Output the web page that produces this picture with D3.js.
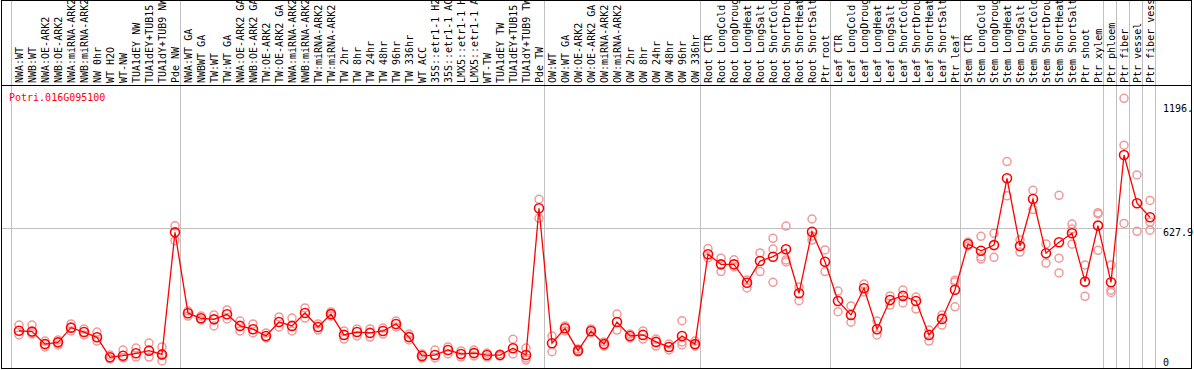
<!DOCTYPE html>
<html><head><meta charset="utf-8">
<script src="https://cdn.jsdelivr.net/npm/d3@7"></script>
<style>html,body{margin:0;padding:0;background:#fff;}svg{display:block;}</style>
</head><body><svg id="c" width="1194" height="370"></svg>
<script>
const title = "Potri.016G095100";
const categories = ["NWA:WT","NWB:WT","NWA:OE-ARK2","NWB:OE-ARK2","NWA:miRNA-ARK2","NWB:miRNA-ARK2","NW 0hr","WT H2O","WT-NW","TUA1dEY NW","TUA1dEY+TUB15 NW","TUA1dY+TUB9 NW","Pde NW",
"NWA:WT GA","NWBWT GA","TW:WT","TW:WT GA","NWA:OE-ARK2 GA","NWB:OE-ARK2 GA","TW:OE-ARK2","TW:OE-ARK2 GA","NWA:miRNA-ARK2 ","NWB:miRNA-ARK2 ","TW:miRNA-ARK2","TW:miRNA-ARK2 ","TW 2hr","TW 8hr","TW 24hr","TW 48hr","TW 96hr","TW 336hr","WT ACC","35S::etr1-1 H2O","35S::etr1-1 ACC","LMX5::etr1-1 H2O","LMX5::etr1-1 ACC","WT-TW","TUA1dEY TW","TUA1dEY+TUB15 TW","TUA1dY+TUB9 TW","Pde TW",
"OW:WT","OW:WT GA","OW:OE-ARK2","OW:OE-ARK2 GA","OW:miRNA-ARK2","OW:miRNA-ARK2 ","OW 2hr","OW 8hr","OW 24hr","OW 48hr","OW 96hr","OW 336hr",
"Root CTR","Root LongCold","Root LongDrought","Root LongHeat","Root LongSalt","Root ShortCold","Root ShortDrought","Root ShortHeat","Root ShortSalt","Ptr root",
"Leaf CTR","Leaf LongCold","Leaf LongDrought","Leaf LongHeat","Leaf LongSalt","Leaf ShortCold","Leaf ShortDrought","Leaf ShortHeat","Leaf ShortSalt","Ptr leaf",
"Stem CTR","Stem LongCold","Stem LongDrought","Stem LongHeat","Stem LongSalt","Stem ShortCold","Stem ShortDrought","Stem ShortHeat","Stem ShortSalt","Ptr shoot","Ptr xylem",
"Ptr phloem","Ptr fiber","Ptr vessel","Ptr fiber vessel"];
const groupStarts = [0,13,41,53,63,73,84,85,86,87,88];
const meanValues = [161,157,100,108,175,155,131,40,47,58,70,53,610,
241,218,213,236,183,168,137,201,183,242,178,237,142,155,151,160,192,132,46,50,73,55,59,50,50,81,50,720,
104,172,70,160,100,201,137,142,110,87,137,100,
510,464,464,380,479,499,533,332,613,476,
297,233,355,168,301,320,297,142,215,348,
557,526,552,857,548,762,515,565,606,385,641,
382,963,743,679];
const replicateValues = [[187,142],[187,146],[114,87],[119,96],[192,160],[169,142],[155,114],[50,32],[73,37],[82,41],[105,41],[87,50,23],[640,572],
[251,228],[228,210],[233,183],[256,215],[205,160],[192,151],[151,128],[224,178],[219,160],[265,219],[192,164],[247,228],[160,123],[169,137],[169,132],[173,146],[205,178],[146,119],[55,37],[73,37],[87,55],[69,41],[73,46],[59,41],[55,46],[122,55],[82,37,27],[761,674],
[137,65],[183,160],[78,64],[169,151],[110,91],[237,164],[146,128],[160,123],[123,91],[100,73],[207,110,96],[114,91],
[536,493],[492,431],[485,452],[393,356],[516,431],[583,534,382],[639,484,475],[361,298],[671,593,575],[530,431],
[342,248],[274,200],[374,338],[205,142],[320,278],[347,288],[315,260],[164,114],[233,187],[392,383,270],
[566,548],[592,499,488],[606,496],[933,777],[575,520],[802,714],[557,470],[779,492,425],[648,625,556],[461,318],[700,694,528],
[461,346,336],[1222,1008,651],[872,615],[756,657,620]];
const yTickValues = [1196, 627.9, 0];
const yTickLabels = ["1196.", "627.9", "0"];

const svg = d3.select("#c");
const W = 1194, H = 370;
const font = "'DejaVu Sans Mono', monospace";
const x = d3.scaleBand().domain(categories).range([11, 11 + 13*categories.length]).padding(0);
const px = c => x(c) + 8;
const y = d3.scaleLinear().domain([0, 1196]).range([366, 104]);

// vertical group separators
const sepX = groupStarts.map(i => i < categories.length ? x(categories[i]) : x.range()[1]);
svg.append("g").selectAll("line").data(sepX).join("line")
  .attr("x1", d => d + 0.5).attr("x2", d => d + 0.5).attr("y1", 0).attr("y2", 368)
  .attr("stroke", "#c0c0c0").attr("stroke-width", 1);

// horizontal grid at middle tick
svg.append("line").attr("x1", 1).attr("x2", 1162)
  .attr("y1", Math.round(y(627.9)) + 0.5).attr("y2", Math.round(y(627.9)) + 0.5)
  .attr("stroke", "#c0c0c0");

// frame
svg.append("rect").attr("x", 1.5).attr("y", 0.5).attr("width", 1190).attr("height", 368)
  .attr("fill", "none").attr("stroke", "#000");
svg.append("line").attr("x1", 1).attr("x2", 1192).attr("y1", 85.5).attr("y2", 85.5).attr("stroke", "#000");

// category labels (rotated)
svg.append("g").selectAll("text").data(categories).join("text")
  .attr("transform", d => `translate(${px(d) + 3.5},83) rotate(-90)`)
  .attr("font-family", font).attr("font-size", 10).attr("fill", "#000")
  .text(d => d.trim());

// title
svg.append("text").attr("x", 9).attr("y", 101).attr("font-family", font).attr("font-size", 10)
  .attr("fill", "#ff0000").text(title);

// y tick labels
svg.append("g").selectAll("text").data(yTickValues).join("text")
  .attr("x", 1163)
  .attr("y", (d, i) => i === 2 ? 366 : y(d) + 7.5)
  .attr("font-family", font).attr("font-size", 10).attr("fill", "#000")
  .text((d, i) => yTickLabels[i]);

// replicate points
const reps = [];
categories.forEach((c, i) => replicateValues[i].forEach(v => reps.push({c, v})));
svg.append("g").selectAll("circle").data(reps).join("circle")
  .attr("cx", d => px(d.c)).attr("cy", d => y(d.v)).attr("r", 4)
  .attr("fill", "none").attr("stroke", "#f09a9a").attr("stroke-width", 1.5);

// mean line
const line = d3.line().x((d, i) => px(categories[i])).y(d => y(d));
svg.append("path").datum(meanValues).attr("d", line)
  .attr("fill", "none").attr("stroke", "#ff0000").attr("stroke-width", 1.3);

// mean points
svg.append("g").selectAll("circle").data(meanValues).join("circle")
  .attr("cx", (d, i) => px(categories[i])).attr("cy", d => y(d)).attr("r", 4.5)
  .attr("fill", "none").attr("stroke", "#ff0000").attr("stroke-width", 1.6);
</script></body></html>
